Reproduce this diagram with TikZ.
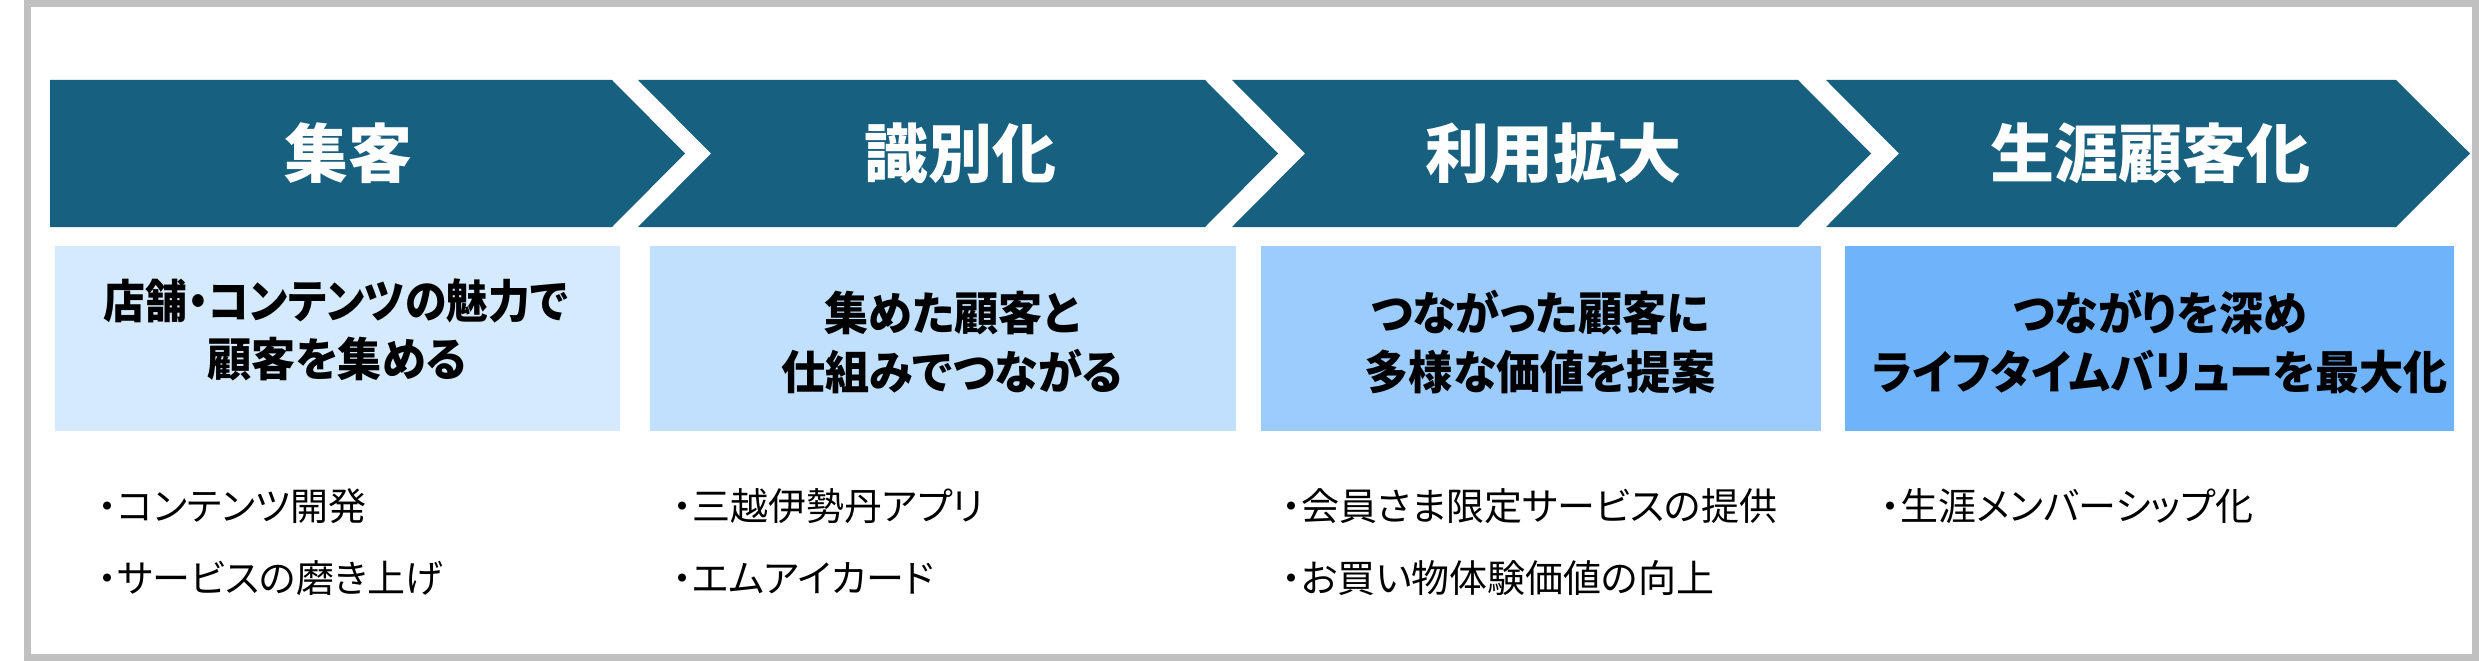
\documentclass[tikz,border=0pt]{standalone}
\usepackage{fontspec}
\newfontfamily\jp{Noto Sans CJK JP}[RawFeature=+palt]
\newfontfamily\jpc{Noto Sans CJK JP}[RawFeature=+palt,FakeStretch=0.96]
\newfontfamily\jpcc{Noto Sans CJK JP}[RawFeature=+palt,FakeStretch=0.91]
\definecolor{chev}{HTML}{17607F}
\definecolor{frame}{HTML}{C0C0C0}
\definecolor{boxa}{HTML}{D6EAFE}
\definecolor{boxb}{HTML}{C1E0FE}
\definecolor{boxc}{HTML}{9BCCFD}
\definecolor{boxd}{HTML}{6FB3FB}
\tikzset{
  chevshape/.style={fill=chev, draw=none},
  ttl/.style={inner sep=0pt, anchor=base, text=white, font=\jp\bfseries\fontsize{64}{70}\selectfont},
  sub/.style={inner sep=0pt, anchor=base, text=black, font=\jpc\bfseries\fontsize{46}{56}\selectfont},
  subn/.style={inner sep=0pt, anchor=base, text=black, font=\jpcc\bfseries\fontsize{46}{56}\selectfont},
  bul/.style={inner sep=0pt, anchor=base west, text=black, font=\jp\fontsize{38}{46}\selectfont},
}
\begin{document}
\begin{tikzpicture}[x=1pt,y=-1pt]
\useasboundingbox (0,0) rectangle (2479,661);
\fill[white] (0,0) rectangle (2479,661);
\draw[frame, line width=7pt] (27.5,3.5) rectangle (2475.5,657.5);
% chevrons
\fill[chevshape] (50,80) -- (612,80) -- (685,153.5) -- (612,227) -- (50,227) -- cycle;
\fill[chevshape] (638,80) -- (1205,80) -- (1278,153.5) -- (1205,227) -- (638,227) -- (711,153.5) -- cycle;
\fill[chevshape] (1232,80) -- (1798,80) -- (1871,153.5) -- (1798,227) -- (1232,227) -- (1305,153.5) -- cycle;
\fill[chevshape] (1826,80) -- (2396,80) -- (2470,153.5) -- (2396,227) -- (1826,227) -- (1899,153.5) -- cycle;
% boxes
\fill[boxa] (55,246) rectangle (620,431);
\fill[boxb] (650,246) rectangle (1236,431);
\fill[boxc] (1261,246) rectangle (1821,431);
\fill[boxd] (1845,246) rectangle (2454,431);
% titles
\node[ttl] (t1) at (348,177) {集客};
\node[ttl] (t2) at (960,177) {識別化};
\node[ttl] (t3) at (1553,177) {利用拡大};
\node[ttl] (t4) at (2150,177) {生涯顧客化};
% subtitles
\node[subn] (s1a) at (336,318) {店舗・コンテンツの魅力で};
\node[sub] (s1b) at (337,376) {顧客を集める};
\node[sub] (s2a) at (952,330) {集めた顧客と};
\node[sub] (s2b) at (952,389) {仕組みでつながる};
\node[sub] (s3a) at (1540,330) {つながった顧客に};
\node[sub] (s3b) at (1540,389) {多様な価値を提案};
\node[sub] (s4a) at (2160,330) {つながりを深め};
\node[sub] (s4b) at (2160,389) {ライフタイムバリューを最大化};
% bullets
\node[bul] (b1a) at (98,520) {・コンテンツ開発};
\node[bul] (b1b) at (98,592) {・サービスの磨き上げ};
\node[bul] (b2a) at (673,520) {・三越伊勢丹アプリ};
\node[bul] (b2b) at (673,592) {・エムアイカード};
\node[bul] (b3a) at (1282,520) {・会員さま限定サービスの提供};
\node[bul] (b3b) at (1282,592) {・お買い物体験価値の向上};
\node[bul] (b4a) at (1881,520) {・生涯メンバーシップ化};
\end{tikzpicture}
\end{document}
